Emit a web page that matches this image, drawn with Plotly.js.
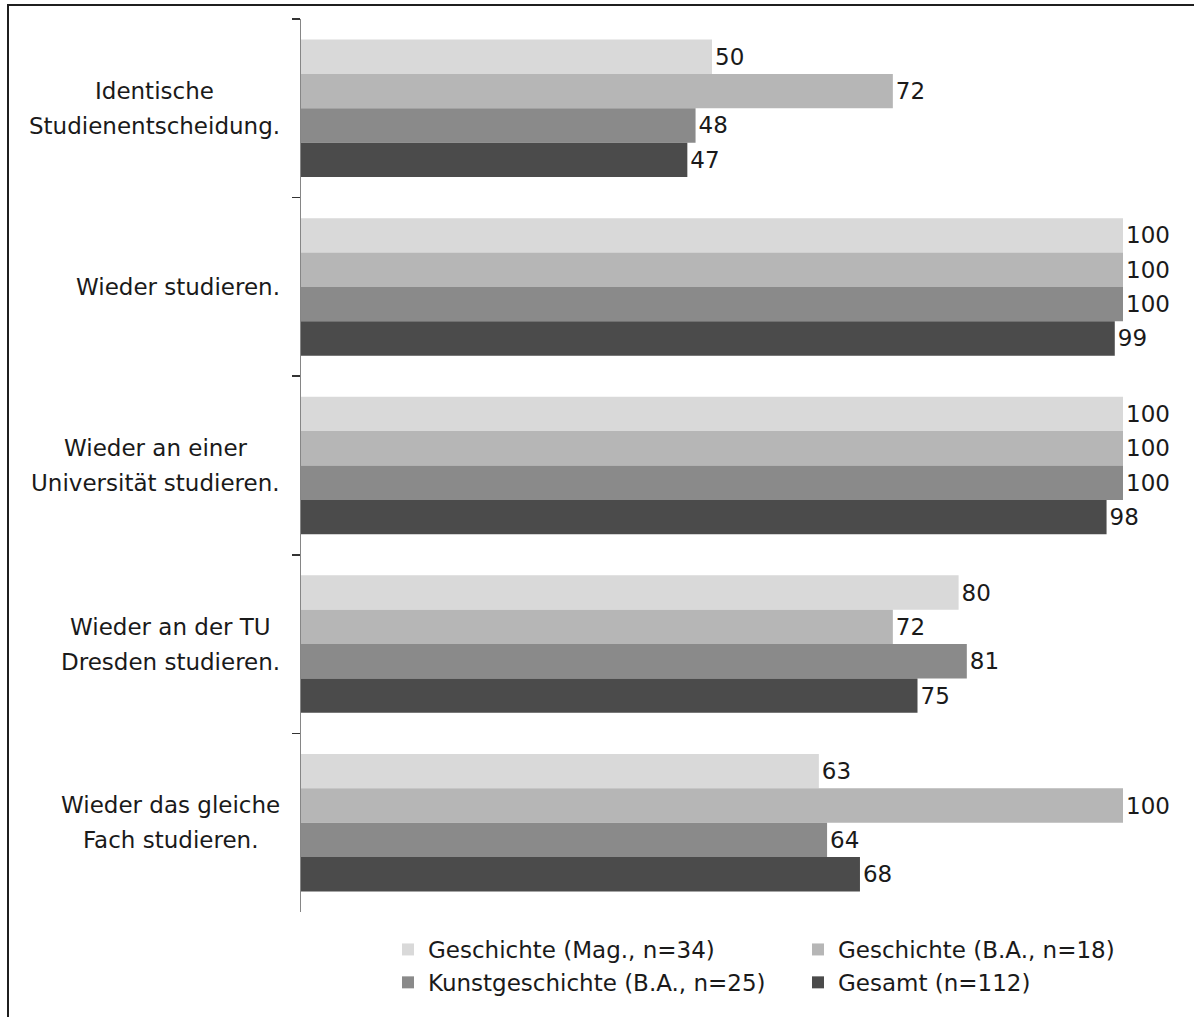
<!DOCTYPE html>
<html>
<head>
<meta charset="utf-8">
<script src="https://cdn.plot.ly/plotly-3.0.1.min.js"></script>
<style>html,body{margin:0;padding:0;background:#fff;}</style>
</head>
<body>
<div id="chart" style="width:1194px;height:1017px;"></div>
<script>
const categories = [
  "Identische<br>Studienentscheidung.",
  "Wieder studieren.",
  "Wieder an einer<br>Universität studieren.",
  "Wieder an der TU<br>Dresden studieren.",
  "Wieder das gleiche<br>Fach studieren."
];
const seriesNames = [
  "Geschichte (Mag., n=34)",
  "Geschichte (B.A., n=18)",
  "Kunstgeschichte (B.A., n=25)",
  "Gesamt (n=112)"
];
const geschichteMag = [50, 100, 100, 80, 63];
const geschichteBA = [72, 100, 100, 72, 100];
const kunstgeschichteBA = [48, 100, 100, 81, 64];
const gesamt = [47, 99, 98, 75, 68];
const seriesValues = [geschichteMag, geschichteBA, kunstgeschichteBA, gesamt];
const colors = ["#d9d9d9", "#b6b6b6", "#8a8a8a", "#4b4b4b"];

const FONT = "DejaVu Sans, sans-serif";
const FS = 23;

const traces = seriesValues.map((vals, i) => ({
  type: "bar",
  orientation: "h",
  name: seriesNames[i],
  y: categories,
  x: vals,
  marker: {color: colors[i], line: {width: 0}},
  text: vals.map(v => String(v)),
  textposition: "outside",
  textfont: {family: FONT, size: FS, color: "#1a1a1a"},
  cliponaxis: false,
  hoverinfo: "x+name"
}));

const W = 1194, H = 1017;
const ml = 301, mr = 71, mt = 19, mb = 105;
const pw = W - ml - mr, ph = H - mt - mb;
const px2x = p => (p - ml) / pw;
const py2y = p => (H - mb - p) / ph;

// measure text widths for centered multi-line category labels
const ctx = document.createElement("canvas").getContext("2d");
ctx.font = FS + "px 'DejaVu Sans'";
const LABEL_RIGHT = 280;   // right edge of label block in px
const LINE_STEP = 35;      // line spacing in px

const annotations = [];
categories.forEach(c => {
  const lines = c.split("<br>");
  const widths = lines.map(l => ctx.measureText(l).width);
  const maxW = Math.max(...widths);
  const centerPx = LABEL_RIGHT - maxW / 2;
  lines.forEach((l, k) => {
    annotations.push({
      xref: "paper", yref: "y",
      x: px2x(centerPx), y: c,
      xanchor: "center", yanchor: "middle",
      yshift: -(k - (lines.length - 1) / 2) * LINE_STEP,
      text: l,
      showarrow: false,
      font: {family: FONT, size: FS, color: "#1a1a1a"}
    });
  });
});

const layout = {
  width: W, height: H,
  margin: {l: ml, r: mr, t: mt, b: mb, autoexpand: false},
  paper_bgcolor: "#ffffff",
  plot_bgcolor: "#ffffff",
  font: {family: FONT, size: FS, color: "#1a1a1a"},
  barmode: "group",
  bargap: 0.23,
  bargroupgap: 0,
  showlegend: true,
  xaxis: {
    range: [0, 100],
    visible: false,
    showgrid: false,
    zeroline: false,
    fixedrange: true
  },
  yaxis: {
    type: "category",
    categoryorder: "array",
    categoryarray: categories,
    autorange: "reversed",
    showticklabels: false,
    showline: true,
    linecolor: "#868686",
    linewidth: 1.5,
    ticks: "outside",
    tickson: "boundaries",
    ticklen: 8,
    tickcolor: "#333333",
    tickwidth: 1.5,
    showgrid: false,
    zeroline: false,
    fixedrange: true
  },
  legend: {
    orientation: "h",
    xref: "container", yref: "container",
    x: 388 / W, y: 1 - 928 / H,
    xanchor: "left", yanchor: "top",
    entrywidth: 365,
    entrywidthmode: "pixels",
    traceorder: "normal",
    font: {family: FONT, size: FS, color: "#1a1a1a"},
    bgcolor: "rgba(0,0,0,0)"
  },
  annotations: annotations,
  shapes: [{
    type: "rect",
    xref: "paper", yref: "paper",
    x0: px2x(8), x1: px2x(1205),
    y0: py2y(5), y1: py2y(1030),
    line: {color: "#1f1f1f", width: 2},
    fillcolor: "rgba(0,0,0,0)",
    layer: "above"
  }]
};

Plotly.newPlot("chart", traces, layout, {displayModeBar: false, staticPlot: true});
</script>
</body>
</html>
